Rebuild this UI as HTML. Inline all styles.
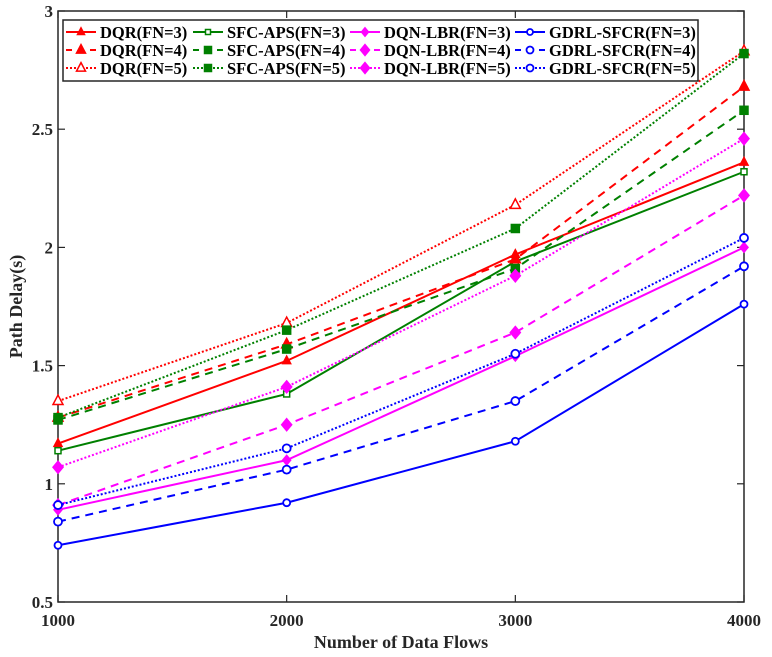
<!DOCTYPE html>
<html><head><meta charset="utf-8"><style>
html,body{margin:0;padding:0;background:#fff;}
svg{display:block;font-family:"Liberation Serif",serif;font-weight:bold;}
</style></head><body>
<svg id="chart" width="772" height="657" xmlns="http://www.w3.org/2000/svg"></svg>
<script>
const categories=[1000,2000,3000,4000];
const yTicks=[0.5,1,1.5,2,2.5,3];
const yTickLabels=["0.5","1","1.5","2","2.5","3"];
const dqr3=[1.17,1.52,1.97,2.36];
const dqr4=[1.28,1.59,1.95,2.68];
const dqr5=[1.35,1.68,2.18,2.83];
const sfc3=[1.14,1.38,1.94,2.32];
const sfc4=[1.27,1.57,1.91,2.58];
const sfc5=[1.28,1.65,2.08,2.82];
const dqn3=[0.89,1.10,1.54,2.00];
const dqn4=[0.91,1.25,1.64,2.22];
const dqn5=[1.07,1.41,1.88,2.46];
const gd3=[0.74,0.92,1.18,1.76];
const gd4=[0.84,1.06,1.35,1.92];
const gd5=[0.91,1.15,1.55,2.04];

const NS="http://www.w3.org/2000/svg";
const svg=document.getElementById('chart');
const L=58,R=744,T=11,B=602;
const xs=v=>L+(v-1000)/3000*(R-L);
const ys=v=>B-(v-0.5)/2.5*(B-T);
function mk(tag,attrs,parent){const e=document.createElementNS(NS,tag);for(const k in attrs)e.setAttribute(k,attrs[k]);(parent||svg).appendChild(e);return e;}

const series=[
 {n:"DQR(FN=3)",d:dqr3,c:"#ff0000",s:"",m:"tri",f:1,sz:4},
 {n:"SFC-APS(FN=3)",d:sfc3,c:"#008000",s:"",m:"sq",f:0,sz:3},
 {n:"DQN-LBR(FN=3)",d:dqn3,c:"#ff00ff",s:"",m:"dia",f:1,sz:4},
 {n:"GDRL-SFCR(FN=3)",d:gd3,c:"#0000ff",s:"",m:"circ",f:0,sz:3.5},
 {n:"DQR(FN=4)",d:dqr4,c:"#ff0000",s:"8,6",m:"tri",f:1,sz:5},
 {n:"SFC-APS(FN=4)",d:sfc4,c:"#008000",s:"8,6",m:"sq",f:1,sz:4},
 {n:"DQN-LBR(FN=4)",d:dqn4,c:"#ff00ff",s:"8,6",m:"dia",f:1,sz:5},
 {n:"GDRL-SFCR(FN=4)",d:gd4,c:"#0000ff",s:"8,6",m:"circ",f:0,sz:4},
 {n:"DQR(FN=5)",d:dqr5,c:"#ff0000",s:"2,2",m:"tri",f:0,sz:5},
 {n:"SFC-APS(FN=5)",d:sfc5,c:"#008000",s:"2,2",m:"sq",f:1,sz:4},
 {n:"DQN-LBR(FN=5)",d:dqn5,c:"#ff00ff",s:"2,2",m:"dia",f:1,sz:5},
 {n:"GDRL-SFCR(FN=5)",d:gd5,c:"#0000ff",s:"2,2",m:"circ",f:0,sz:4}
];
function marker(g,m,x,y,c,f,sz){
 const fill=f?c:"#fff";let e;
 if(m==="tri")e=mk('polygon',{points:`${x},${y-sz*1.2} ${x-sz},${y+sz*0.7} ${x+sz},${y+sz*0.7}`,fill:fill,stroke:c,'stroke-width':1.5},g);
 else if(m==="sq")e=mk('rect',{x:x-sz,y:y-sz,width:2*sz,height:2*sz,fill:fill,stroke:c,'stroke-width':1.5},g);
 else if(m==="dia")e=mk('polygon',{points:`${x},${y-sz*1.2} ${x+sz},${y} ${x},${y+sz*1.2} ${x-sz},${y}`,fill:fill,stroke:c,'stroke-width':1.5},g);
 else e=mk('circle',{cx:x,cy:y,r:sz,fill:fill,stroke:c,'stroke-width':1.8},g);
 return e;
}
// axes box
const box=mk('rect',{x:L,y:T,width:R-L,height:B-T,fill:"none",stroke:"#262626",'stroke-width':1.5});


categories.forEach(v=>{
 const x=xs(v);
 mk('line',{x1:x,y1:B,x2:x,y2:B-7,stroke:"#262626",'stroke-width':1.2});
 mk('line',{x1:x,y1:T,x2:x,y2:T+7,stroke:"#262626",'stroke-width':1.2});
 const t=mk('text',{x:x,y:B+24,'text-anchor':'middle','font-size':17,fill:"#262626"});
 t.textContent=v;
 
 
});
yTicks.forEach((v,i)=>{
 const y=ys(v);
 mk('line',{x1:L,y1:y,x2:L+7,y2:y,stroke:"#262626",'stroke-width':1.2});
 mk('line',{x1:R,y1:y,x2:R-7,y2:y,stroke:"#262626",'stroke-width':1.2});
 const t=mk('text',{x:L-5,y:y+6,'text-anchor':'end','font-size':17,fill:"#262626"});
 t.textContent=yTickLabels[i];
 
 
});
const xt=mk('text',{x:(L+R)/2,y:648,'text-anchor':'middle','font-size':18,fill:"#262626"});
xt.textContent="Number of Data Flows";


const yt=mk('text',{x:0,y:0,'text-anchor':'middle','font-size':18,fill:"#262626",transform:`translate(22,${(T+B)/2}) rotate(-90)`});
yt.textContent="Path Delay(s)";



series.forEach(s=>{
 const g=mk('g',{});
 
 
 const pts=s.d.map((v,i)=>xs(categories[i])+','+ys(v)).join(' ');
 const attrs={points:pts,fill:"none",stroke:s.c,'stroke-width':2};
 if(s.s)attrs['stroke-dasharray']=s.s;
 mk('polyline',attrs,g);
 s.d.forEach((v,i)=>{
  const m=marker(g,s.m,xs(categories[i]),ys(v),s.c,s.f,s.sz);
  
  
 });
});
// legend
const lg=mk('g',{});


mk('rect',{x:63,y:20,width:635,height:61,fill:"#fff",stroke:"#262626",'stroke-width':1.5},lg);
const colX=[66,193,350,515];
const rowY=[32,50,68];
series.forEach((s,i)=>{
 const col=i%4,row=Math.floor(i/4);
 const x=colX[col],y=rowY[row];
 const e=mk('g',{},lg);
 
 
 const a={x1:x,y1:y,x2:x+30,y2:y,stroke:s.c,'stroke-width':2};
 if(s.s)a['stroke-dasharray']=s.s==="8,6"?"6,6":s.s;
 mk('line',a,e);
 marker(e,s.m,x+15,y,s.c,s.f,s.sz-0.5);
 const t=mk('text',{x:x+34,y:y+6,'font-size':16.5,fill:"#000"},e);
 t.textContent=s.n;
});
</script>
</body></html>
